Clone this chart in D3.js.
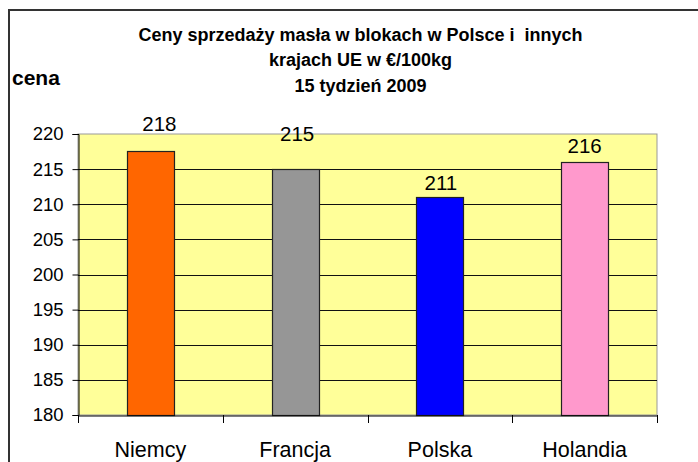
<!DOCTYPE html>
<html>
<head>
<meta charset="utf-8">
<script src="https://cdn.jsdelivr.net/npm/d3@7"></script>
<style>
   body { margin: 0; background: #fff; }
   text { font-family: "Liberation Sans", Arial, sans-serif; fill: #000; }
</style>
</head>
<body>
<div class="visHolder"></div>
<script>
const countries = ["Niemcy", "Francja", "Polska", "Holandia"];
const prices = [217.6, 215, 211.1, 216];
const priceLabels = ["218", "215", "211", "216"];
const barColors = ["#ff6600", "#969696", "#0000ff", "#ff99cc"];
const yTicks = [180, 185, 190, 195, 200, 205, 210, 215, 220];
const titleLines = ["Ceny sprzedaży masła w blokach w Polsce i  innych", "krajach UE w €/100kg", "15 tydzień 2009"];

// label nudges as they sit in the original (moved by hand there)
const labelDx = [9, 2, 1, 0];
const labelDy = [-20, -28, -7, -9];

const fullWidth = 698;
const fullHeight = 462;
const plot = { left: 78, right: 657, top: 134, bottom: 415 };

const svg = d3.select(".visHolder")
   .append("svg")
   .attr("width", fullWidth)
   .attr("height", fullHeight);

// outer chart frame, runs off the right and bottom edges
svg.append("rect")
   .attr("x", 9)
   .attr("y", 10)
   .attr("width", 720)
   .attr("height", 480)
   .attr("fill", "none")
   .attr("stroke", "#333")
   .attr("stroke-width", 2);

const xScale = d3.scaleBand()
   .domain(countries)
   .range([plot.left, plot.right]);
const yScale = d3.scaleLinear()
   .domain([180, 220])
   .range([plot.bottom, plot.top]);

svg.append("rect")
   .attr("x", plot.left)
   .attr("y", plot.top)
   .attr("width", plot.right - plot.left)
   .attr("height", plot.bottom - plot.top)
   .attr("fill", "#ffff99")
   .attr("stroke", "#999")
   .attr("stroke-width", 1);

svg.selectAll(".grid")
   .data(yTicks.slice(1, -1))
   .enter()
   .append("line")
   .attr("class", "grid")
   .attr("x1", plot.left)
   .attr("x2", plot.right)
   .attr("y1", d => Math.round(yScale(d)) + 0.5)
   .attr("y2", d => Math.round(yScale(d)) + 0.5)
   .attr("stroke", "#111")
   .attr("stroke-width", 1);

const barWidth = xScale.bandwidth() * 0.325;

svg.selectAll(".bar")
   .data(prices)
   .enter()
   .append("rect")
   .attr("class", "bar")
   .attr("x", (d, i) => Math.round(xScale(countries[i]) + xScale.bandwidth() / 2 - barWidth / 2) + 0.5)
   .attr("y", d => Math.round(yScale(d)) + 0.5)
   .attr("width", Math.round(barWidth))
   .attr("height", d => Math.round(yScale(180)) - Math.round(yScale(d)))
   .attr("fill", (d, i) => barColors[i])
   .attr("stroke", "#222")
   .attr("stroke-width", 1.2);

svg.selectAll(".value")
   .data(prices)
   .enter()
   .append("text")
   .attr("class", "value")
   .attr("x", (d, i) => xScale(countries[i]) + xScale.bandwidth() / 2 + labelDx[i])
   .attr("y", (d, i) => yScale(d) + labelDy[i])
   .attr("text-anchor", "middle")
   .style("font-size", "20.5px")
   .text((d, i) => priceLabels[i]);

const yAxis = d3.axisLeft(yScale)
   .tickValues(yTicks)
   .tickSize(6)
   .tickPadding(9);
const yG = svg.append("g")
   .attr("transform", "translate(" + (plot.left + 0.5) + ",0)")
   .call(yAxis);
yG.select(".domain").attr("stroke", "#000");
yG.selectAll(".tick line").attr("stroke", "#000");
yG.selectAll("text")
   .style("font-size", "18.5px")
   .style("font-family", "'Liberation Sans', Arial, sans-serif")
   .attr("fill", "#000");

const xAxis = d3.axisBottom(xScale)
   .tickSize(0)
   .tickPadding(26);
const xG = svg.append("g")
   .attr("transform", "translate(0," + (plot.bottom + 0.5) + ")")
   .call(xAxis);
xG.select(".domain").attr("stroke", "#000");
xG.selectAll("text")
   .style("font-size", "21.5px")
   .style("font-family", "'Liberation Sans', Arial, sans-serif")
   .attr("fill", "#000");

// tick marks sit on the category boundaries, not the centres
svg.selectAll(".xtick")
   .data(countries.concat(["end"]))
   .enter()
   .append("line")
   .attr("class", "xtick")
   .attr("x1", (d, i) => Math.round(plot.left + i * xScale.step()) + 0.5)
   .attr("x2", (d, i) => Math.round(plot.left + i * xScale.step()) + 0.5)
   .attr("y1", plot.bottom)
   .attr("y2", plot.bottom + 8)
   .attr("stroke", "#000");

svg.append("text")
   .attr("x", 12)
   .attr("y", 85)
   .style("font-size", "21px")
   .style("font-weight", "bold")
   .text("cena");

svg.selectAll(".title")
   .data(titleLines)
   .enter()
   .append("text")
   .attr("class", "title")
   .attr("x", 360.5)
   .attr("y", (d, i) => 41 + i * 25.3)
   .attr("text-anchor", "middle")
   .style("font-size", "18px")
   .style("font-weight", "bold")
   .style("white-space", "pre")
   .text(d => d);
</script>
</body>
</html>
